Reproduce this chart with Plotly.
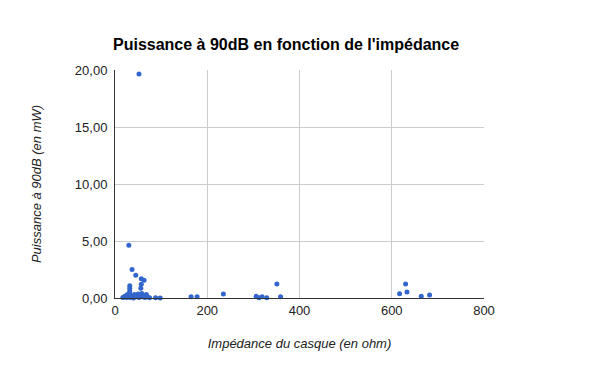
import plotly.graph_objects as go

impedance = [52, 30, 37, 45, 57, 63, 57, 56, 32, 32, 32,
             17, 20, 22, 24, 25, 27, 29, 30, 31, 32, 33, 34, 36, 38, 40, 42, 45, 47, 50,
             52, 54, 56, 58, 60, 63, 65, 68, 70, 75, 88, 98,
             165, 178, 235, 306, 312, 319, 329, 351, 359,
             617, 630, 633, 664, 682]
power = [19.65, 4.62, 2.5, 2.0, 1.68, 1.56, 1.2, 0.85, 1.08, 0.85, 0.62,
         0.05, 0.1, 0.15, 0.2, 0.05, 0.3, 0.1, 0.35, 0.4, 0.2, 0.05, 0.25, 0.1, 0.15, 0.0, 0.3, 0.1, 0.2, 0.35,
         0.05, 0.15, 0.25, 0.4, 0.1, 0.2, 0.05, 0.3, 0.1, 0.02, 0.02, 0.0,
         0.12, 0.12, 0.35, 0.15, 0.02, 0.12, 0.03, 1.23, 0.12,
         0.38, 1.23, 0.53, 0.15, 0.26]

x_ticks = [0, 200, 400, 600, 800]
y_ticks = [0, 5, 10, 15, 20]

W, H = 590, 361

fig = go.Figure(go.Scatter(
    x=impedance, y=power, mode="markers",
    marker=dict(color="#3366CC", size=5),
    cliponaxis=False, hoverinfo="x+y",
))

fig.update_layout(
    width=W, height=H,
    margin=dict(l=107, r=114, t=62, b=71),
    paper_bgcolor="white", plot_bgcolor="white",
    separators=", ",
    showlegend=False,
    font=dict(family="Liberation Sans, Arial, sans-serif", size=13, color="#222222"),
    title=dict(text="<b>Puissance à 90dB en fonction de l'impédance</b>",
               x=105/W, xanchor="left", y=1-36/H, yanchor="middle",
               font=dict(size=16, color="#000000")),
    xaxis=dict(range=[0, 800], tickvals=x_ticks, showgrid=True, gridcolor="#cccccc",
               zeroline=False, showline=True, linecolor="#333333", linewidth=1,
               ticks="", tickfont=dict(size=13, color="#222222"),
               title=dict(text="<i>Impédance du casque (en ohm)</i>",
                          font=dict(size=13, color="#222222"), standoff=22)),
    yaxis=dict(range=[0, 20], tickvals=y_ticks, tickformat=".2f", showgrid=True,
               gridcolor="#cccccc", zeroline=False, showline=True, linecolor="#333333",
               linewidth=1, ticks="", ticklabelstandoff=4,
               tickfont=dict(size=13, color="#222222"),
               title=dict(text="<i>Puissance à 90dB (en mW)</i>",
                          font=dict(size=13, color="#222222"), standoff=30)),
)

fig.write_html("out.html")
